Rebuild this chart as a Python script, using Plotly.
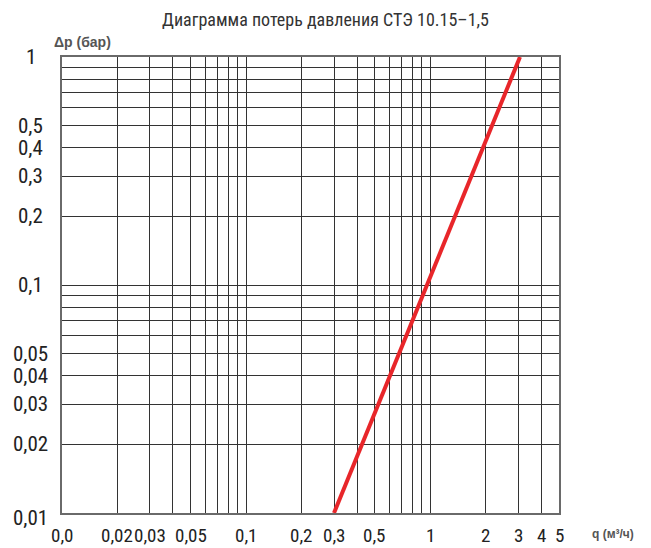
import math
import plotly.graph_objects as go

# --- data ---
q_line = [0.3, 3.07]          # flow, m3/h
dp_line = [0.01, 1.0]         # pressure loss, bar

x_grid = [0.01, 0.02, 0.03, 0.04, 0.05, 0.06, 0.07, 0.08, 0.09,
          0.1, 0.2, 0.3, 0.4, 0.5, 0.6, 0.7, 0.8, 0.9,
          1, 2, 3, 4, 5]
x_labels = {0.01: "0,0", 0.02: "0,02", 0.03: "0,03", 0.05: "0,05", 0.1: "0,1",
            0.2: "0,2", 0.3: "0,3", 0.5: "0,5", 1: "1", 2: "2", 3: "3", 4: "4", 5: "5"}

y_grid = [0.01, 0.02, 0.03, 0.04, 0.05, 0.06, 0.07, 0.08, 0.09,
          0.1, 0.2, 0.3, 0.4, 0.5, 0.6, 0.7, 0.8, 0.9, 1]
y_labels = {0.01: "0,01", 0.02: "0,02", 0.03: "0,03", 0.04: "0,04", 0.05: "0,05",
            0.1: "0,1", 0.2: "0,2", 0.3: "0,3", 0.4: "0,4", 0.5: "0,5", 1: "1"}

title_text = "Диаграмма потерь давления СТЭ 10.15–1,5"
y_title = "Δp (бар)"
x_title = "q (м³/ч)"

FONT = "Roboto Condensed, Liberation Sans Narrow, Arial Narrow, Roboto, sans-serif"
SMALL = "Liberation Sans, Arial, sans-serif"

fig = go.Figure()
fig.add_trace(go.Scatter(x=q_line, y=dp_line, mode="lines",
                         line=dict(color="#e8262a", width=4),
                         showlegend=False, hoverinfo="skip", cliponaxis=False))

fig.update_xaxes(type="log", range=[math.log10(0.01), math.log10(5)],
                 tickvals=x_grid, showticklabels=False,
                 showgrid=True, gridcolor="#333333", gridwidth=1,
                 showline=True, linecolor="#6a6a6a", linewidth=1.5, mirror=True,
                 ticks="", zeroline=False, automargin=False)
fig.update_yaxes(type="log", range=[math.log10(0.01), math.log10(1)],
                 tickvals=y_grid, showticklabels=False,
                 showgrid=True, gridcolor="#333333", gridwidth=1,
                 showline=True, linecolor="#6a6a6a", linewidth=1.5, mirror=True,
                 ticks="", zeroline=False, automargin=False)

annotations = []
for v, t in y_labels.items():
    annotations.append(dict(x=-0.0624, xref="paper", y=math.log10(v), yref="y",
                            text=t, showarrow=False, xanchor="center", yanchor="middle",
                            yshift=-5 if v == 0.01 else 0,
                            font=dict(family=FONT, size=21, color="#222")))
for v, t in x_labels.items():
    annotations.append(dict(x=math.log10(v), xref="x", y=0, yref="paper",
                            text=t, showarrow=False, xanchor="center", yanchor="middle",
                            yshift=-22,
                            font=dict(family=FONT, size=19, color="#222")))
annotations.append(dict(x=0, xref="paper", y=1, yref="paper", text="<b>" + y_title + "</b>",
                        showarrow=False, xanchor="left", yanchor="bottom", xshift=-10, yshift=5,
                        font=dict(family=SMALL, size=14, color="#555")))
annotations.append(dict(x=1, xref="paper", y=0, yref="paper", text="<b>" + x_title + "</b>",
                        showarrow=False, xanchor="left", yanchor="top", xshift=31, yshift=-12,
                        font=dict(family=SMALL, size=12, color="#555")))

fig.update_layout(
    width=651, height=548,
    margin=dict(l=62, r=92, t=57, b=35),
    paper_bgcolor="white", plot_bgcolor="white",
    title=dict(text=title_text, x=0.5, xanchor="center", y=0.9635, yanchor="middle",
               font=dict(family=FONT, size=18, color="#333")),
    annotations=annotations,
)

fig.write_html("out.html", config={"displayModeBar": False},
               post_script="document.body.style.margin='0';")
